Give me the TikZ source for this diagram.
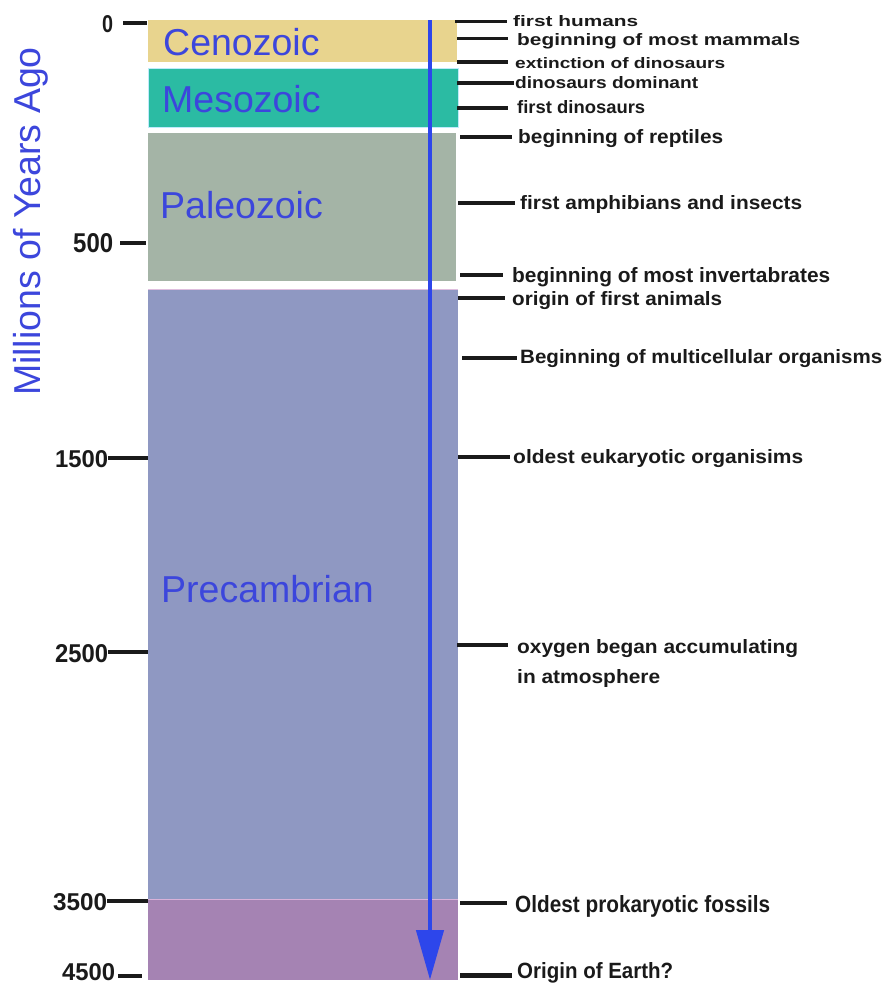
\documentclass[tikz,border=0pt]{standalone}
\usepackage{fontspec}
\usepackage{graphicx}
\setmainfont{Liberation Sans}
\usetikzlibrary{arrows.meta}
\definecolor{ceno}{HTML}{E8D48E}
\definecolor{meso}{HTML}{2BBBA3}
\definecolor{paleo}{HTML}{A4B4A6}
\definecolor{precam}{HTML}{8F98C2}
\definecolor{hadean}{HTML}{A583B3}
\definecolor{eraBlue}{HTML}{3C46DC}
\definecolor{arrowBlue}{HTML}{2D46EB}
\definecolor{ink}{HTML}{1A1A1A}
\newcommand{\fitbox}[3]{\resizebox{#1pt}{#2pt}{\bfseries #3}}
\tikzset{
  tk/.style={line width=3.5pt, ink},
  lab/.style={anchor=base west, inner sep=0pt, text=ink},
  num/.style={anchor=base west, inner sep=0pt, text=ink},
  era/.style={anchor=base west, inner sep=0pt, text=eraBlue, font=\fontsize{37.5}{40}\selectfont},
}
\begin{document}
\begin{tikzpicture}[x=1pt,y=-1pt]
\useasboundingbox (0,0) rectangle (885,986);
% bands
\fill[ceno] (148,20) rectangle (457,62);
\fill[meso] (148,68) rectangle (458,127);
\draw[cyan!25, line width=1pt] (148,68) rectangle (458,127);
\fill[paleo] (148,133) rectangle (456,281);
\fill[precam] (148,289) rectangle (458,899);
\draw[violet!25, line width=1pt] (148,289) -- (458,289);
\fill[hadean] (148,899) rectangle (458,980);
\draw[violet!30, line width=1pt] (148,899) -- (458,899);
% era names
\node[era] (ceno) at (163,55) {Cenozoic};
\node[era] (meso) at (162,112) {Mesozoic};
\node[era] (paleo) at (160,218) {Paleozoic};
\node[era] (pre) at (161,602) {Precambrian};
% arrow
\coordinate (atop) at (430,20);
\coordinate (abot) at (430,980);
\draw[line width=4.5pt, arrowBlue, -{Triangle[length=50pt,width=27pt]}] (atop) -- (abot);
% axis title
\node[rotate=90, anchor=base, inner sep=0pt, text=eraBlue, font=\fontsize{37.5}{40}\selectfont] (title) at (40,221.5) {Millions of Years Ago};
% left numbers
\node[num] (n0) at (102,32) {\fitbox{11}{17}{0}};
\node[num] (n500) at (73,252) {\fitbox{40}{19}{500}};
\node[num] (n1500) at (55,467) {\fitbox{53}{17}{1500}};
\node[num] (n2500) at (55,662) {\fitbox{53}{18}{2500}};
\node[num] (n3500) at (53,910) {\fitbox{54}{17}{3500}};
\node[num] (n4500) at (62,980) {\fitbox{53}{17}{4500}};
\draw[tk, line width=4pt] (123,23) -- (147,23);
\draw[tk, line width=4pt] (120,243) -- (146,243);
\draw[tk, line width=4pt] (108,458) -- (148,458);
\draw[tk, line width=4pt] (108,652) -- (148,652);
\draw[tk, line width=4pt] (107,901) -- (148,901);
\draw[tk, line width=4pt] (118,976) -- (142,976);
% right ticks
\draw[tk] (455,21.5) -- (507,21.5);
\draw[tk] (457,38.5) -- (508,38.5);
\draw[tk] (457,62) -- (508,62);
\draw[tk] (457,83) -- (514,83);
\draw[tk] (457,108) -- (508,108);
\draw[tk] (460,137) -- (512,137);
\draw[tk] (458,203) -- (515,203);
\draw[tk] (460,275) -- (503,275);
\draw[tk] (458,298) -- (505,298);
\draw[tk] (462,358) -- (517,358);
\draw[tk, line width=4.5pt] (458,457) -- (510,457);
\draw[tk] (457,645) -- (508,645);
\draw[tk, line width=4.5pt] (460,903) -- (507,903);
\draw[tk, line width=5pt] (460,975) -- (512,975);
% right labels
\node[lab] (l1) at (513,26) {\fitbox{125}{11}{first humans}};
\node[lab] (l2) at (517,45) {\fitbox{283}{12}{beginning of most mammals}};
\node[lab] (l3) at (515,68) {\fitbox{210}{11}{extinction of dinosaurs}};
\node[lab] (l4) at (515,88) {\fitbox{183}{12}{dinosaurs dominant}};
\node[lab] (l5) at (517,113) {\fitbox{128}{13}{first dinosaurs}};
\node[lab] (l6) at (518,143) {\fitbox{205}{14}{beginning of reptiles}};
\node[lab] (l7) at (520,209) {\fitbox{282}{14}{first amphibians and insects}};
\node[lab] (l8) at (512,282) {\fitbox{318}{15}{beginning of most invertabrates}};
\node[lab] (l9) at (512,305) {\fitbox{210}{14}{origin of first animals}};
\node[lab] (l10) at (520,363) {\fitbox{362}{14}{Beginning of multicellular organisms}};
\node[lab] (l11) at (513,463) {\fitbox{290}{14}{oldest eukaryotic organisims}};
\node[lab] (l12) at (517,653) {\fitbox{281}{14}{oxygen began accumulating}};
\node[lab] (l13) at (517,683) {\fitbox{143}{14}{in atmosphere}};
\node[lab] (l14) at (515,912) {\fitbox{255}{17}{Oldest prokaryotic fossils}};
\node[lab] (l15) at (517,978) {\fitbox{156}{16}{Origin of Earth?}};
\end{tikzpicture}
\end{document}
